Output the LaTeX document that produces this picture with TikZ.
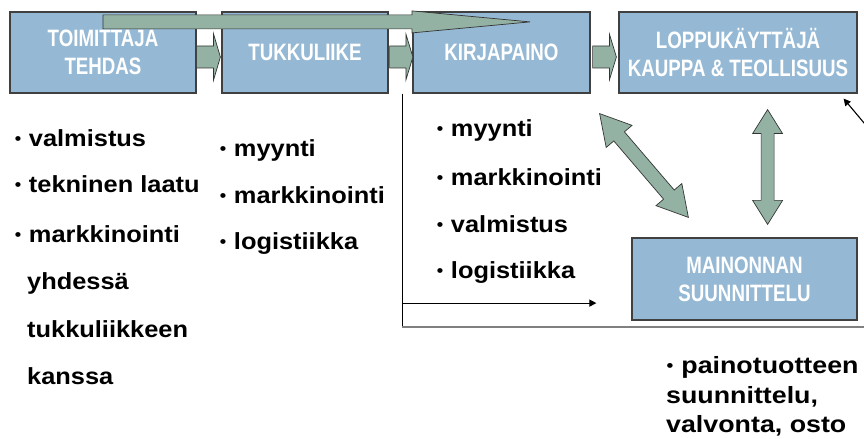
\documentclass[tikz,border=0pt]{standalone}
\usepackage{fontspec}
\setmainfont{Liberation Sans}
\newfontfamily\bodyfont{Liberation Sans}[FakeStretch=1.09]
\newfontfamily\widebodyfont{Liberation Sans}[FakeStretch=1.14]
\newfontfamily\boxfont{Liberation Sans}[FakeStretch=0.79]
\usetikzlibrary{calc,arrows.meta}

\definecolor{boxblue}{RGB}{149,185,212}
\definecolor{flowgreen}{RGB}{148,178,163}
\definecolor{edgegray}{RGB}{64,64,64}

% small list bullet
\newcommand\dotmark{\makebox[0.33em][c]{\raisebox{0.09em}{\scalebox{0.72}{•}}}}

% Block arrow with one head: start, end, head length, head half width, shaft half width
\newcommand\singleblock[5]{%
  \path ($(#2)!#3!(#1)$) coordinate (hB);
  \filldraw[flow] ($(#1)!#5!90:(#2)$) -- ($(hB)!#5!-90:(#1)$) -- ($(hB)!#4!-90:(#1)$)
    -- (#2) -- ($(hB)!#4!90:(#1)$) -- ($(hB)!#5!90:(#1)$) -- ($(#1)!#5!-90:(#2)$) -- cycle;
}
% Block arrow with a head at both ends
\newcommand\doubleblock[5]{%
  \path ($(#1)!#3!(#2)$) coordinate (hA) ($(#2)!#3!(#1)$) coordinate (hB);
  \filldraw[flow] (#1) -- ($(hA)!#4!90:(#2)$) -- ($(hA)!#5!90:(#2)$)
    -- ($(hB)!#5!-90:(#1)$) -- ($(hB)!#4!-90:(#1)$) -- (#2)
    -- ($(hB)!#4!90:(#1)$) -- ($(hB)!#5!90:(#1)$)
    -- ($(hA)!#5!-90:(#2)$) -- ($(hA)!#4!-90:(#2)$) -- cycle;
}

\tikzset{
  stage/.style={draw=edgegray, line width=1.2bp, fill=boxblue, text=white,
    font=\boxfont\bfseries\fontsize{23.7bp}{28bp}\selectfont,
    align=center, minimum height=81bp, inner sep=0pt},
  item/.style={anchor=base west, inner sep=0pt,
    font=\bodyfont\bfseries\fontsize{23.3bp}{28bp}\selectfont},
  wideitem/.style={item, font=\widebodyfont\bfseries\fontsize{23.5bp}{28bp}\selectfont},
  flow/.style={fill=flowgreen, draw=black!80, line width=0.7bp, line join=miter},
  link/.style={draw=black, line width=1.1bp},
  linkarrow/.style={link, -{Triangle[length=7bp,width=7bp]}},
  baseline rule/.style={draw=black!50, line width=2bp}
}

\begin{document}
\begin{tikzpicture}[x=1bp, y=-1bp]
\useasboundingbox (0,0) rectangle (864,439);
\clip (0,0) rectangle (864,439);

% supply chain stages
\node[stage, minimum width=186bp] (b1) at (103,52.5) {TOIMITTAJA\\TEHDAS};
\node[stage, minimum width=166bp] (b2) at (305,52.5) {TUKKULIIKE};
\node[stage, minimum width=177bp] (b3) at (501.5,52.5) {KIRJAPAINO};
\node[stage, minimum width=238bp] (b4) at (738,52.5) {LOPPUKÄYTTÄJÄ\\KAUPPA \& TEOLLISUUS};
\node[stage, minimum width=225bp, minimum height=82bp] (b5) at (744.5,279) {MAINONNAN\\SUUNNITTELU};

% short flow arrows between stages
\coordinate (a1s) at ($(b1.east)+(0,4.5)$);
\coordinate (a1e) at ($(b2.west)+(-1,4.5)$);
\singleblock{a1s}{a1e}{7bp}{23.5bp}{11bp}
\coordinate (a2s) at ($(b2.east)+(1,4.5)$);
\coordinate (a2e) at ($(b3.west)+(0.5,4.5)$);
\singleblock{a2s}{a2e}{7bp}{23bp}{11bp}
\coordinate (a3s) at ($(b3.east)+(2,4.5)$);
\coordinate (a3e) at ($(b4.west)+(-2,4.5)$);
\singleblock{a3s}{a3e}{7bp}{23bp}{11bp}

% long bypass arrow over the first stages
\coordinate (ls) at ($(b1.north)+(0,10.5)$);
\coordinate (le) at ($(b3.north)+(28.5,10.5)$);
\singleblock{ls}{le}{118bp}{11bp}{7bp}

% two-way arrows to the advertising design
\coordinate (d1) at ($(b3.south east)+(9,20)$);
\coordinate (d2) at ($(b5.north west)+(57,-20)$);
\doubleblock{d1}{d2}{30bp}{17bp}{7bp}
\coordinate (u1) at ($(b4.south east)+(-90,16)$);
\coordinate (u2) at ($(b5.north east)+(-90,-13)$);
\doubleblock{u1}{u2}{24bp}{15bp}{6.5bp}

% thin connector lines
\coordinate (v0) at ($(b3.south west)+(-10,0)$);
\coordinate (v1) at ($(v0)+(0,233)$);
\coordinate (hend) at ($(v1)+(470,0)$);
\draw[link] (v0) -- (v1);
\draw[baseline rule] (v1) -- (hend);
\coordinate (m0) at ($(v0)+(0,209.5)$);
\coordinate (m1) at ($(m0)+(194,0)$);
\draw[linkarrow] (m0) -- (m1);
\coordinate (r0) at ($(b4.south east)+(12,36)$);
\coordinate (r1) at ($(b4.south east)+(-14,5)$);
\draw[linkarrow] (r0) -- (r1);

% task lists
\node[item] (c1a) at (14,147) {\dotmark{} valmistus};
\node[item] (c1b) at (14,193) {\dotmark{} tekninen laatu};
\node[item] (c1c) at (14,243) {\dotmark{} markkinointi};
\node[item] (c1d) at (27,290) {yhdessä};
\node[item] (c1e) at (27,338) {tukkuliikkeen};
\node[item] (c1f) at (27,385) {kanssa};

\node[item] (c2a) at (219,157) {\dotmark{} myynti};
\node[item] (c2b) at (219,204) {\dotmark{} markkinointi};
\node[item] (c2c) at (219,250) {\dotmark{} logistiikka};

\node[item] (c3a) at (436,137) {\dotmark{} myynti};
\node[item] (c3b) at (436,186) {\dotmark{} markkinointi};
\node[item] (c3c) at (436,233) {\dotmark{} valmistus};
\node[item] (c3d) at (436,279) {\dotmark{} logistiikka};

\node[wideitem] (c4a) at (666,374) {\dotmark{} painotuotteen};
\node[wideitem] (c4b) at (666,403) {suunnittelu,};
\node[wideitem] (c4c) at (666,432) {valvonta, osto};
\end{tikzpicture}
\end{document}
